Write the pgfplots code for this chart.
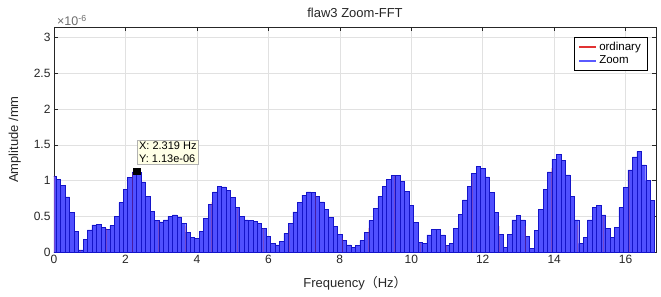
\documentclass[border=0pt]{standalone}
\usepackage{pgfplots}
\pgfplotsset{compat=1.18}
\usepackage{fontspec}
\setmainfont{Liberation Sans}
\newfontfamily\cjk{Noto Sans CJK SC}
\usetikzlibrary{calc}
\definecolor{axgray}{RGB}{38,38,38}
\definecolor{gridgray}{RGB}{225,225,225}
\definecolor{barfill}{RGB}{80,80,255}
\definecolor{baredge}{RGB}{20,20,200}
\definecolor{tipfill}{RGB}{255,255,230}
\definecolor{ordred}{RGB}{225,50,50}
\definecolor{zoomblue}{RGB}{90,90,255}
\pgfplotstableread{
x y
0.000 1.06
0.125 1.02
0.250 0.93
0.375 0.77
0.500 0.55
0.625 0.29
0.750 0.03
0.875 0.18
1.000 0.31
1.125 0.38
1.250 0.385
1.375 0.35
1.500 0.32
1.625 0.37
1.750 0.50
1.875 0.69
2.000 0.88
2.125 1.04
2.250 1.12
2.375 1.11
2.500 0.98
2.625 0.78
2.750 0.57
2.875 0.44
3.000 0.42
3.125 0.45
3.250 0.50
3.375 0.52
3.500 0.49
3.625 0.40
3.750 0.28
3.875 0.20
4.000 0.19
4.125 0.29
4.250 0.47
4.375 0.67
4.500 0.84
4.625 0.92
4.750 0.91
4.875 0.86
5.000 0.76
5.125 0.62
5.250 0.50
5.375 0.45
5.500 0.44
5.625 0.43
5.750 0.40
5.875 0.33
6.000 0.22
6.125 0.12
6.250 0.10
6.375 0.15
6.500 0.26
6.625 0.40
6.750 0.56
6.875 0.69
7.000 0.795
7.125 0.84
7.250 0.83
7.375 0.78
7.500 0.70
7.625 0.60
7.750 0.48
7.875 0.36
8.000 0.25
8.125 0.16
8.250 0.10
8.375 0.07
8.500 0.09
8.625 0.16
8.750 0.28
8.875 0.44
9.000 0.61
9.125 0.78
9.250 0.92
9.375 1.02
9.500 1.075
9.625 1.07
9.750 0.99
9.875 0.85
10.000 0.65
10.125 0.41
10.250 0.14
10.375 0.12
10.500 0.24
10.625 0.32
10.750 0.32
10.875 0.24
11.000 0.09
11.125 0.12
11.250 0.33
11.375 0.53
11.500 0.73
11.625 0.92
11.750 1.10
11.875 1.20
12.000 1.17
12.125 1.05
12.250 0.83
12.375 0.55
12.500 0.25
12.625 0.06
12.750 0.25
12.875 0.45
13.000 0.51
13.125 0.45
13.250 0.22
13.375 0.05
13.500 0.30
13.625 0.60
13.750 0.88
13.875 1.12
14.000 1.30
14.125 1.37
14.250 1.28
14.375 1.08
14.500 0.78
14.625 0.45
14.750 0.12
14.875 0.20
15.000 0.45
15.125 0.62
15.250 0.65
15.375 0.52
15.500 0.33
15.625 0.21
15.750 0.35
15.875 0.62
16.000 0.90
16.125 1.15
16.250 1.33
16.375 1.41
16.500 1.22
16.625 1.00
16.750 0.72
}\zoomdata
\pgfplotstableread{
x y
0.000 1.06
0.733 0.03
1.465 0.33
2.198 1.10
2.930 0.43
3.663 0.36
4.395 0.70
5.128 0.62
5.860 0.34
6.593 0.36
7.325 0.80
8.058 0.20
8.790 0.33
9.523 1.07
10.255 0.12
10.988 0.10
11.720 1.06
12.453 0.36
13.185 0.36
13.918 1.18
14.650 0.38
15.383 0.51
16.115 1.13
}\ordinarydata
\begin{document}
\begin{tikzpicture}
\begin{axis}[
  width=602pt, height=225pt, scale only axis,
  xmin=0, xmax=16.85, ymin=0, ymax=3.15,
  xtick={0,2,...,16}, ytick={0,0.5,1,1.5,2,2.5,3},
  yticklabels={0,0.5,1,1.5,2,2.5,3},
  /pgf/number format/assume math mode=true,
  tick label style={font=\fontsize{12}{14}\selectfont, text=axgray},
  axis line style={axgray, line width=0.6pt},
  major tick style={axgray, line width=0.6pt},
  major tick length=4pt,
  tick align=inside,
  grid=major,
  major grid style={gridgray, line width=0.5pt},
  title={flaw3 Zoom-FFT},
  title style={font=\fontsize{13}{15}\selectfont, text=axgray, yshift=0pt},
  xlabel={Frequency{\cjk （}Hz{\cjk ）}},
  xlabel style={font=\fontsize{13}{15}\selectfont, text=axgray, yshift=-5pt},
  ylabel={Amplitude /mm},
  ylabel style={font=\fontsize{13}{15}\selectfont, text=axgray, yshift=6pt},
  legend style={at={(1,1)}, anchor=north east, xshift=-9pt, yshift=-10pt,
    font=\fontsize{11.5}{14}\selectfont, inner xsep=4pt, inner ysep=3pt},
  legend cell align=left,
  clip mode=individual,
]
\addplot[forget plot, ybar, bar width=0.125, bar shift=0pt, fill=barfill, draw=baredge, line width=0.45pt] table[x=x,y=y] {\zoomdata};
\addplot[forget plot, ycomb, ordred, line width=0.6pt, opacity=0.25] table[x=x,y=y] {\ordinarydata};
\addplot[forget plot, only marks, mark=square*, mark size=3.2pt, black] coordinates {(2.319,1.13)};
\addlegendimage{ordred, line width=1.6pt}
\addlegendentry{ordinary}
\addlegendimage{zoomblue, line width=1.6pt}
\addlegendentry{Zoom}
\node[anchor=south west, fill=tipfill, draw=gray!60, align=left, inner sep=2pt,
  font=\fontsize{11}{13}\selectfont, text=black] at (axis cs:2.32,1.22) {X: 2.319 Hz\\Y: 1.13e-06};
\node[anchor=south west, text=gray!85!black, inner sep=1pt, xshift=2pt] at (rel axis cs:0,1) {\fontsize{12.5}{14}\selectfont ×10\textsuperscript{-6}};
\end{axis}
\pgfresetboundingbox
\path[use as bounding box] ($(current axis.south west)+(-54pt,-45pt)$) rectangle ($(current axis.north east)+(5pt,27pt)$);
\end{tikzpicture}
\end{document}
